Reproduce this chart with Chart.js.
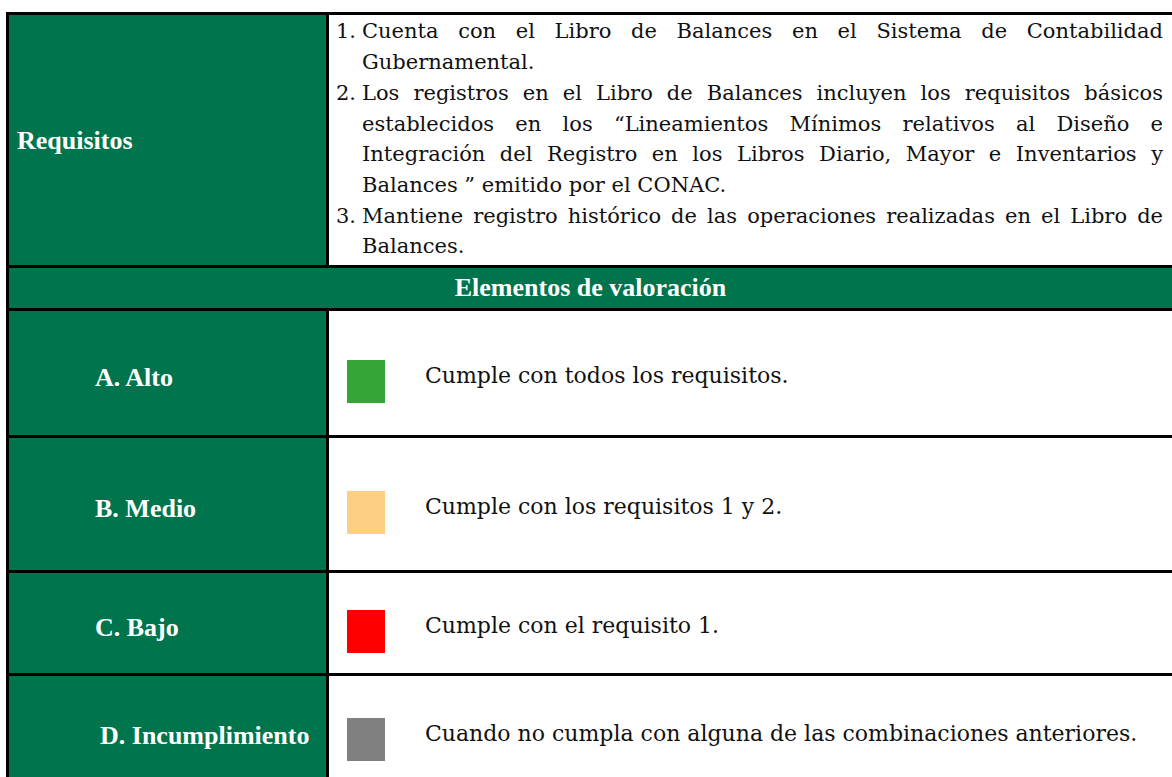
<!DOCTYPE html>
<html>
<head>
<meta charset="utf-8">
<script src="https://cdn.jsdelivr.net/npm/chart.js@4.4.1/dist/chart.umd.min.js"></script>
<style>
html,body{margin:0;padding:0;width:1172px;height:777px;overflow:hidden;background:#fff;}
#frame{position:absolute;left:6px;top:12px;width:1200px;height:800px;background:#000;}
.cell{position:absolute;}
.g{background:#00744C;color:#fff;font-family:"Liberation Serif","Times New Roman",serif;font-weight:bold;font-size:26px;}
.w{background:#fff;}
.lbl{position:absolute;white-space:nowrap;line-height:30px;}
.num{position:absolute;left:336px;font-family:"DejaVu Serif",serif;font-size:21px;line-height:30.7px;color:#111;white-space:nowrap;}
.ln{position:absolute;left:362px;width:801px;font-family:"DejaVu Serif",serif;font-size:21px;line-height:30.7px;color:#111;white-space:nowrap;}
.ln span{display:inline-block;white-space:nowrap;}
.desc{position:absolute;left:425px;font-family:"DejaVu Serif",serif;font-size:22px;line-height:30px;color:#111;white-space:nowrap;}
.sq{position:absolute;left:347px;}
</style>
</head>
<body>
<div id="frame"></div>
<div id="root"></div>
<script>
// ---- data ----
const headerLabel = "Requisitos";
const sectionTitle = "Elementos de valoración";
const reqNumbers = ["1.", "2.", "3."];
// each requirement as its visual lines (as in the reference); last line of each is left-aligned
const reqLines = [
  ["Cuenta con el Libro de Balances en el Sistema de Contabilidad", "Gubernamental."],
  ["Los registros en el Libro de Balances incluyen los requisitos básicos",
   "establecidos en los “Lineamientos Mínimos relativos al Diseño e",
   "Integración del Registro en los Libros Diario, Mayor e Inventarios y",
   "Balances ” emitido por el CONAC."],
  ["Mantiene registro histórico de las operaciones realizadas en el Libro de", "Balances."]
];
const levels = ["A. Alto", "B. Medio", "C. Bajo", "D. Incumplimiento"];
const levelDescriptions = [
  "Cumple con todos los requisitos.",
  "Cumple con los requisitos 1 y 2.",
  "Cumple con el requisito 1.",
  "Cuando no cumpla con alguna de las combinaciones anteriores."
];
const levelValues = [1, 1, 1, 1];
const levelColors = ["#35A537", "#FCCF82", "#FF0000", "#808080"];

// ---- layout ----
const root = document.getElementById('root');
function cell(cls, l, t, w, h){
  const d = document.createElement('div');
  d.className = 'cell ' + cls;
  Object.assign(d.style, {left:l+'px', top:t+'px', width:w+'px', height:h+'px'});
  root.appendChild(d); return d;
}
const RIGHT = 1172;
// Requisitos row
cell('g', 9, 15, 317, 250);
cell('w', 329, 15, RIGHT-329, 250);
const rl = document.createElement('div');
rl.className = 'lbl g'; rl.style.background = 'transparent';
Object.assign(rl.style, {left:'17px', top:'126px'});
rl.textContent = headerLabel; root.appendChild(rl);

// requirement lines
let lineTop = 16.4; const LH = 30.7; const LINEW = 801;
const justified = [];
reqLines.forEach((lines, i) => {
  const n = document.createElement('div');
  n.className = 'num'; n.style.top = lineTop + 'px'; n.textContent = reqNumbers[i];
  root.appendChild(n);
  lines.forEach((t, j) => {
    const d = document.createElement('div');
    d.className = 'ln'; d.style.top = lineTop + 'px';
    const s = document.createElement('span'); s.textContent = t;
    d.appendChild(s); root.appendChild(d);
    if (j < lines.length - 1) justified.push(s);
    lineTop += LH;
  });
});
justified.forEach(s => {
  const nat = s.getBoundingClientRect().width;
  const spaces = (s.textContent.match(/ /g) || []).length;
  if (spaces) s.style.wordSpacing = ((LINEW - nat) / spaces) + 'px';
});

// section title row
const hdr = cell('g', 9, 268, RIGHT-9, 40);
Object.assign(hdr.style, {display:'flex', alignItems:'center', justifyContent:'center'});
hdr.textContent = sectionTitle;

// level rows (top, height) and vertical centre of their content
const rowTops = [311, 438, 573, 676];
const rowHeights = [124, 132, 100, 110];
const contentOffset = 8; // content sits slightly below the row centre
const textLift = 3;
const labelLeft = [95, 95, 95, 100];
levels.forEach((lv, i) => {
  const t = rowTops[i];
  const c = t + rowHeights[i] / 2 + contentOffset;
  cell('g', 9, t, 317, rowHeights[i]);
  cell('w', 329, t, RIGHT-329, rowHeights[i]);
  const l = document.createElement('div');
  l.className = 'lbl g'; l.style.background = 'transparent';
  Object.assign(l.style, {left: labelLeft[i]+'px', top: (c - 15 - textLift) + 'px'});
  l.textContent = lv; root.appendChild(l);
  const d = document.createElement('div');
  d.className = 'desc'; d.style.top = (c - 17 - textLift) + 'px';
  d.textContent = levelDescriptions[i]; root.appendChild(d);

  // colour square drawn with Chart.js (one small bar chart per row)
  const cv = document.createElement('canvas');
  cv.className = 'sq'; cv.width = 38; cv.height = 43;
  cv.style.top = (c - 21.5) + 'px';
  root.appendChild(cv);
  new Chart(cv, {
    type: 'bar',
    data: { labels: [lv], datasets: [{ data: [levelValues[i]], backgroundColor: [levelColors[i]], borderWidth: 0, barPercentage: 1, categoryPercentage: 1 }] },
    options: {
      indexAxis: 'y', responsive: false, animation: false, events: [],
      layout: { padding: 0 },
      plugins: { legend: { display: false }, tooltip: { enabled: false } },
      scales: { x: { display: false, min: 0, max: 1 }, y: { display: false, offset: true } }
    }
  });
});
</script>
</body>
</html>
